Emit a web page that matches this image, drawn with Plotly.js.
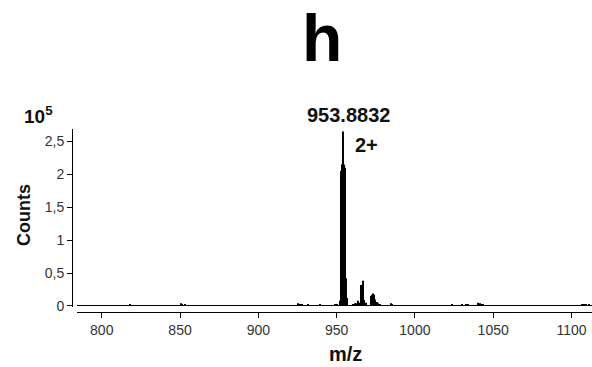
<!DOCTYPE html>
<html>
<head>
<meta charset="utf-8">
<script src="https://cdn.plot.ly/plotly-3.0.1.min.js"></script>
<style>
  html, body { margin: 0; padding: 0; background: #ffffff; }
  #chart { width: 592px; height: 367px; }
</style>
</head>
<body>
<div id="chart"></div>
<script>
// Mass spectrum: peak m/z values and intensities (counts in units of 10^5)
const peakMz = [
  818.0, 850.5, 851.5, 853.0,
  925.5, 926.5, 928.0, 932.0, 939.5, 949.0, 950.5,
  952.38, 952.88, 953.38, 953.8832, 954.38, 954.88, 955.38, 955.88, 956.38, 956.88,
  960.5, 961.7, 962.6, 963.5, 964.6, 965.6, 966.7, 967.5, 968.5,
  972.0, 972.7, 973.4, 974.1, 974.8, 975.6, 976.5, 977.5,
  984.6, 985.3,
  1023.5, 1030.0, 1032.5, 1034.0,
  1040.5, 1041.5, 1042.5, 1043.5,
  1106.5, 1108.0, 1109.5, 1111.0
];
const peakCounts = [
  0.02, 0.04, 0.03, 0.02,
  0.04, 0.03, 0.03, 0.02, 0.02, 0.02, 0.03,
  0.08, 2.05, 2.15, 2.65, 2.2, 2.15, 2.1, 0.42, 0.12, 0.06,
  0.03, 0.04, 0.04, 0.08, 0.05, 0.32, 0.385, 0.09, 0.05,
  0.15, 0.17, 0.19, 0.17, 0.1, 0.06, 0.04, 0.03,
  0.04, 0.03,
  0.02, 0.02, 0.02, 0.02,
  0.05, 0.04, 0.03, 0.02,
  0.02, 0.03, 0.02, 0.02
];

// Axis ticks
const xTickVals = [800, 850, 900, 950, 1000, 1050, 1100];
const yTickVals = [0, 0.5, 1, 1.5, 2, 2.5];
const yTickText = ['0', '0,5', '1', '1,5', '2', '2,5'];

// Annotated base peak
const basePeakLabel = '953.8832';
const chargeLabel = '2+';

const font = 'Liberation Sans, Arial, sans-serif';

const trace = {
  type: 'bar',
  x: peakMz,
  y: peakCounts,
  width: 0.6,
  marker: { color: '#000000', line: { width: 0 } },
  hoverinfo: 'x+y'
};

const layout = {
  width: 592,
  height: 367,
  margin: { l: 72, r: 0, t: 129, b: 55, pad: 0 },
  paper_bgcolor: '#ffffff',
  plot_bgcolor: '#ffffff',
  showlegend: false,
  font: { family: font, color: '#333333', size: 14 },
  xaxis: {
    domain: [0.0096, 1],
    anchor: 'free',
    position: 0,
    range: [784.2, 1113.1],
    showline: true,
    linecolor: '#000000',
    linewidth: 1,
    ticks: 'outside',
    ticklen: 5,
    tickwidth: 1,
    tickcolor: '#000000',
    tickvals: xTickVals,
    tickfont: { family: font, size: 14, color: '#333333' },
    showgrid: false,
    zeroline: false
  },
  yaxis: {
    domain: [0.0257, 1],
    anchor: 'free',
    position: 0,
    range: [-0.02, 2.689],
    showline: true,
    linecolor: '#000000',
    linewidth: 1,
    ticks: 'outside',
    ticklen: 5,
    tickwidth: 1,
    tickcolor: '#000000',
    tickvals: yTickVals,
    ticktext: yTickText,
    tickfont: { family: font, size: 14, color: '#333333' },
    showgrid: false,
    zeroline: true,
    zerolinecolor: '#000000',
    zerolinewidth: 1
  },
  annotations: [
    {
      text: '<b>h</b>', xref: 'paper', yref: 'paper', x: 0.48, y: 1.497,
      xanchor: 'center', yanchor: 'middle', showarrow: false,
      font: { family: font, size: 66, color: '#000000' }
    },
    {
      text: '<b>' + basePeakLabel + '</b>', xref: 'paper', yref: 'paper', x: 0.531, y: 1.074,
      xanchor: 'center', yanchor: 'middle', showarrow: false,
      font: { family: font, size: 20, color: '#111111' }
    },
    {
      text: '<b>' + chargeLabel + '</b>', xref: 'paper', yref: 'paper', x: 0.567, y: 0.91,
      xanchor: 'center', yanchor: 'middle', showarrow: false,
      font: { family: font, size: 20, color: '#111111' }
    },
    {
      text: '<b>10<sup>5</sup></b>', xref: 'paper', yref: 'paper', x: -0.096, y: 1.077,
      xanchor: 'left', yanchor: 'middle', showarrow: false,
      font: { family: font, size: 19, color: '#111111' }
    },
    {
      text: '<b>Counts</b>', xref: 'paper', yref: 'paper', x: -0.0923, y: 0.53,
      xanchor: 'center', yanchor: 'middle', showarrow: false, textangle: -90,
      font: { family: font, size: 18, color: '#111111' }
    },
    {
      text: '<b>m/z</b>', xref: 'paper', yref: 'paper', x: 0.525, y: -0.227,
      xanchor: 'center', yanchor: 'middle', showarrow: false,
      font: { family: font, size: 20, color: '#111111' }
    }
  ]
};

Plotly.newPlot('chart', [trace], layout, { displayModeBar: false });
</script>
</body>
</html>
